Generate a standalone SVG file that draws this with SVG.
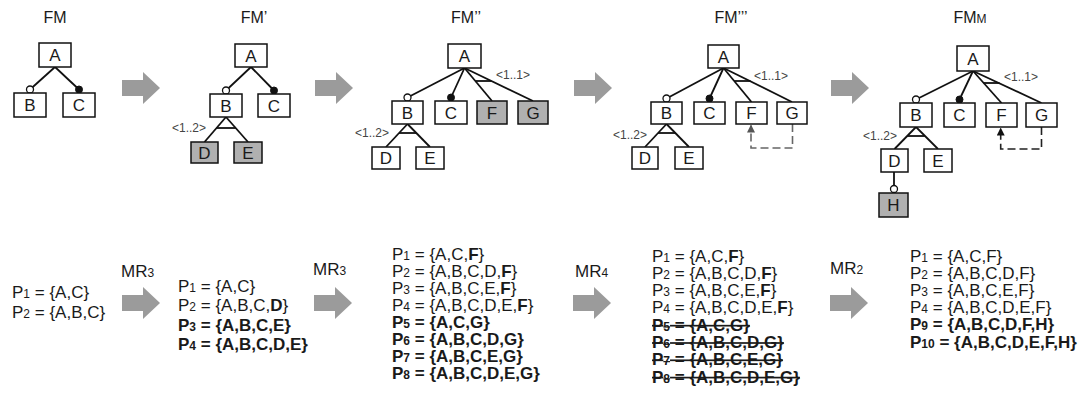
<svg xmlns="http://www.w3.org/2000/svg" width="1081" height="409" viewBox="0 0 1081 409">
<style>
text{font-family:"Liberation Sans",Arial,sans-serif;fill:#1a1a1a}
.t{font-size:16px;text-anchor:middle}
.n{font-size:17px;text-anchor:middle}
.g{font-size:12px;fill:#444}
.l{font-size:17px}
.b{font-weight:bold}
.s{font-size:12px}
.box{fill:#fff;stroke:#111;stroke-width:1.5}
.gbox{fill:#b0b0b0;stroke:#111;stroke-width:1.5}
.ln{stroke:#111;stroke-width:1.8;fill:none}
.oc{fill:#fff;stroke:#111;stroke-width:1.3}
.fc{fill:#111;stroke:#111;stroke-width:1}
.arr{fill:#9b9b9b}
.dg{stroke:#666;stroke-width:1.6;fill:none;stroke-dasharray:8 4}
.dk{stroke:#222;stroke-width:1.6;fill:none;stroke-dasharray:8 4}
.strike{text-decoration:line-through}
</style>
<defs>
<path id="bigarrow" d="M0,8 H21 V0 L38,16 L21,32 V24 H0 Z"/>
<marker id="ahg" markerWidth="8" markerHeight="8" refX="7" refY="4" orient="auto" markerUnits="userSpaceOnUse">
<path d="M0,0 L8,4 L0,8 Z" fill="#555"/>
</marker>
<marker id="ahk" markerWidth="8" markerHeight="8" refX="7" refY="4" orient="auto" markerUnits="userSpaceOnUse">
<path d="M0,0 L8,4 L0,8 Z" fill="#111"/>
</marker>
</defs>

<!-- titles -->
<g id="titles">
<text class="t" x="55" y="23">FM</text>
<text class="t" x="254" y="23">FM’</text>
<text class="t" x="466" y="23">FM’’</text>
<text class="t" x="731" y="23">FM’’’</text>
<text class="t" x="970" y="23">FM<tspan font-size="12">M</tspan></text>
</g>

<!-- transition arrows -->
<g id="arrows">
<use href="#bigarrow" class="arr" x="122" y="72"/>
<use href="#bigarrow" class="arr" x="315" y="72"/>
<use href="#bigarrow" class="arr" x="574" y="72"/>
<use href="#bigarrow" class="arr" x="831" y="72"/>
<use href="#bigarrow" class="arr" x="122" y="287"/>
<use href="#bigarrow" class="arr" x="314" y="287"/>
<use href="#bigarrow" class="arr" x="573" y="287"/>
<use href="#bigarrow" class="arr" x="830" y="287"/>
</g>

<g id="connectors">
<!-- FM -->
<line class="ln" x1="55" y1="67" x2="30" y2="89.5"/>
<line class="ln" x1="55" y1="67" x2="79" y2="89.5"/>
<circle class="oc" cx="30" cy="89.5" r="3.5"/>
<circle class="fc" cx="79" cy="89.5" r="3.5"/>
<!-- FM' -->
<line class="ln" x1="251" y1="67" x2="226" y2="90.5"/>
<line class="ln" x1="251" y1="67" x2="274" y2="90.5"/>
<circle class="oc" cx="226" cy="90.5" r="3.5"/>
<circle class="fc" cx="274" cy="90.5" r="3.5"/>
<line class="ln" x1="226" y1="117" x2="204.5" y2="142"/>
<line class="ln" x1="226" y1="117" x2="248" y2="142"/>
<line class="ln" x1="216.5" y1="128" x2="235.7" y2="128"/>
<!-- FM'' -->
<line class="ln" x1="464.5" y1="68" x2="407.5" y2="97.5"/>
<line class="ln" x1="464.5" y1="68" x2="451" y2="97.5"/>
<line class="ln" x1="464.5" y1="68" x2="492" y2="101"/>
<line class="ln" x1="464.5" y1="68" x2="533" y2="101"/>
<line class="ln" x1="475.3" y1="81" x2="491.3" y2="81"/>
<circle class="oc" cx="407.5" cy="97.5" r="3.5"/>
<circle class="fc" cx="451" cy="97.5" r="3.5"/>
<line class="ln" x1="407.5" y1="124" x2="386" y2="147"/>
<line class="ln" x1="407.5" y1="124" x2="430" y2="147"/>
<line class="ln" x1="399" y1="133" x2="416.3" y2="133"/>
<!-- FM''' -->
<line class="ln" x1="723.5" y1="68" x2="666.5" y2="98.5"/>
<line class="ln" x1="723.5" y1="68" x2="709.5" y2="98.5"/>
<line class="ln" x1="723.5" y1="68" x2="751.5" y2="102"/>
<line class="ln" x1="723.5" y1="68" x2="792" y2="102"/>
<line class="ln" x1="734.2" y1="81" x2="750.5" y2="81"/>
<circle class="oc" cx="666.5" cy="98.5" r="3.5"/>
<circle class="fc" cx="709.5" cy="98.5" r="3.5"/>
<line class="ln" x1="666.5" y1="124" x2="645" y2="147"/>
<line class="ln" x1="666.5" y1="124" x2="689" y2="147"/>
<line class="ln" x1="658" y1="133" x2="675.5" y2="133"/>
<polyline class="dg" points="792.5,124 792.5,148 751,148 751,125.5" marker-end="url(#ahg)"/>
<!-- FMM -->
<line class="ln" x1="973" y1="71" x2="916" y2="99.5"/>
<line class="ln" x1="973" y1="71" x2="959.5" y2="99.5"/>
<line class="ln" x1="973" y1="71" x2="1001.5" y2="103"/>
<line class="ln" x1="973" y1="71" x2="1041.5" y2="103"/>
<line class="ln" x1="983.7" y1="83" x2="999.5" y2="83"/>
<circle class="oc" cx="916" cy="99.5" r="3.5"/>
<circle class="fc" cx="959.5" cy="99.5" r="3.5"/>
<line class="ln" x1="916" y1="127" x2="894.5" y2="149"/>
<line class="ln" x1="916" y1="127" x2="938" y2="149"/>
<line class="ln" x1="907.2" y1="136" x2="924.8" y2="136"/>
<line class="ln" x1="894" y1="172" x2="894" y2="189"/>
<circle class="oc" cx="894" cy="189" r="3.5"/>
<polyline class="dk" points="1041.5,127 1041.5,149 1000.7,149 1000.7,128.5" marker-end="url(#ahk)"/>
</g>

<!-- group cardinality labels -->
<g id="cardinalities">
<text class="g" x="172" y="132">&lt;1..2&gt;</text>
<text class="g" x="496" y="79">&lt;1..1&gt;</text>
<text class="g" x="355" y="137">&lt;1..2&gt;</text>
<text class="g" x="754" y="80">&lt;1..1&gt;</text>
<text class="g" x="613" y="139">&lt;1..2&gt;</text>
<text class="g" x="1004" y="81">&lt;1..1&gt;</text>
<text class="g" x="863" y="140">&lt;1..2&gt;</text>
</g>

<!-- FM nodes -->
<g id="fm-A"><rect class="box" x="39" y="43" width="32" height="24"/><text class="n" x="55" y="61">A</text></g>
<g id="fm-B"><rect class="box" x="14" y="93" width="32" height="24"/><text class="n" x="30" y="111">B</text></g>
<g id="fm-C"><rect class="box" x="63" y="93" width="32" height="24"/><text class="n" x="79" y="111">C</text></g>

<!-- FM' nodes -->
<g id="fm1-A"><rect class="box" x="235" y="44" width="32" height="23"/><text class="n" x="251" y="61.5">A</text></g>
<g id="fm1-B"><rect class="box" x="210" y="94" width="32" height="23"/><text class="n" x="226" y="111.5">B</text></g>
<g id="fm1-C"><rect class="box" x="258" y="94" width="32" height="23"/><text class="n" x="274" y="111.5">C</text></g>
<g id="fm1-D"><rect class="gbox" x="191" y="142" width="27" height="21"/><text class="n" x="204.5" y="158.5">D</text></g>
<g id="fm1-E"><rect class="gbox" x="234" y="142" width="28" height="21"/><text class="n" x="248" y="158.5">E</text></g>

<!-- FM'' nodes -->
<g id="fm2-A"><rect class="box" x="448" y="44" width="33" height="24"/><text class="n" x="464.5" y="62">A</text></g>
<g id="fm2-B"><rect class="box" x="392" y="101" width="31" height="23"/><text class="n" x="407.5" y="118.5">B</text></g>
<g id="fm2-C"><rect class="box" x="435" y="101" width="32" height="23"/><text class="n" x="451" y="118.5">C</text></g>
<g id="fm2-F"><rect class="gbox" x="477" y="101" width="30" height="23"/><text class="n" x="492" y="118.5">F</text></g>
<g id="fm2-G"><rect class="gbox" x="518" y="101" width="30" height="23"/><text class="n" x="533" y="118.5">G</text></g>
<g id="fm2-D"><rect class="box" x="372" y="147" width="28" height="22"/><text class="n" x="386" y="164">D</text></g>
<g id="fm2-E"><rect class="box" x="416" y="147" width="28" height="22"/><text class="n" x="430" y="164">E</text></g>

<!-- FM''' nodes -->
<g id="fm3-A"><rect class="box" x="708" y="45" width="31" height="23"/><text class="n" x="723.5" y="62.5">A</text></g>
<g id="fm3-B"><rect class="box" x="651" y="102" width="31" height="22"/><text class="n" x="666.5" y="119">B</text></g>
<g id="fm3-C"><rect class="box" x="694" y="102" width="31" height="22"/><text class="n" x="709.5" y="119">C</text></g>
<g id="fm3-F"><rect class="box" x="736" y="102" width="31" height="22"/><text class="n" x="751.5" y="119">F</text></g>
<g id="fm3-G"><rect class="box" x="777" y="102" width="30" height="22"/><text class="n" x="792" y="119">G</text></g>
<g id="fm3-D"><rect class="box" x="632" y="147" width="26" height="22"/><text class="n" x="645" y="164">D</text></g>
<g id="fm3-E"><rect class="box" x="675" y="147" width="28" height="22"/><text class="n" x="689" y="164">E</text></g>

<!-- FMM nodes -->
<g id="fmm-A"><rect class="box" x="957" y="46" width="32" height="25"/><text class="n" x="973" y="64.5">A</text></g>
<g id="fmm-B"><rect class="box" x="900" y="103" width="32" height="24"/><text class="n" x="916" y="121">B</text></g>
<g id="fmm-C"><rect class="box" x="944" y="103" width="31" height="24"/><text class="n" x="959.5" y="121">C</text></g>
<g id="fmm-F"><rect class="box" x="986" y="103" width="31" height="24"/><text class="n" x="1001.5" y="121">F</text></g>
<g id="fmm-G"><rect class="box" x="1026" y="103" width="31" height="24"/><text class="n" x="1041.5" y="121">G</text></g>
<g id="fmm-D"><rect class="box" x="881" y="149" width="27" height="23"/><text class="n" x="894.5" y="166.5">D</text></g>
<g id="fmm-E"><rect class="box" x="924" y="149" width="28" height="23"/><text class="n" x="938" y="166.5">E</text></g>
<g id="fmm-H"><rect class="gbox" x="879" y="193" width="29" height="24"/><text class="n" x="893.5" y="211">H</text></g>

<!-- MR labels -->
<g id="mr-labels">
<text class="l" x="121" y="276.5">MR<tspan class="s">3</tspan></text>
<text class="l" x="313" y="275">MR<tspan class="s">3</tspan></text>
<text class="l" x="575" y="277">MR<tspan class="s">4</tspan></text>
<text class="l" x="830" y="274">MR<tspan class="s">2</tspan></text>
</g>

<!-- product lists -->
<g id="list1">
<text class="l" x="12" y="297.5">P<tspan class="s">1</tspan> = {A,C}</text>
<text class="l" x="12" y="317.5">P<tspan class="s">2</tspan> = {A,B,C}</text>
</g>
<g id="list2">
<text class="l" x="178" y="291.5">P<tspan class="s">1</tspan> = {A,C}</text>
<text class="l" x="178" y="311">P<tspan class="s">2</tspan> = {A,B,C,<tspan class="b">D</tspan>}</text>
<text class="l b" x="178" y="330.5">P<tspan class="s">3</tspan> = {A,B,C,E}</text>
<text class="l b" x="178" y="350">P<tspan class="s">4</tspan> = {A,B,C,D,E}</text>
</g>
<g id="list3">
<text class="l" x="392" y="259.5">P<tspan class="s">1</tspan> = {A,C,<tspan class="b">F</tspan>}</text>
<text class="l" x="392" y="276.6">P<tspan class="s">2</tspan> = {A,B,C,D,<tspan class="b">F</tspan>}</text>
<text class="l" x="392" y="293.7">P<tspan class="s">3</tspan> = {A,B,C,E,<tspan class="b">F</tspan>}</text>
<text class="l" x="392" y="310.8">P<tspan class="s">4</tspan> = {A,B,C,D,E,<tspan class="b">F</tspan>}</text>
<text class="l b" x="392" y="327.9">P<tspan class="s">5</tspan> = {A,C,G}</text>
<text class="l b" x="392" y="345">P<tspan class="s">6</tspan> = {A,B,C,D,G}</text>
<text class="l b" x="392" y="362.1">P<tspan class="s">7</tspan> = {A,B,C,E,G}</text>
<text class="l b" x="392" y="379.2">P<tspan class="s">8</tspan> = {A,B,C,D,E,G}</text>
</g>
<g id="list4">
<text class="l" x="652" y="261.5">P<tspan class="s">1</tspan> = {A,C,<tspan class="b">F</tspan>}</text>
<text class="l" x="652" y="278.8">P<tspan class="s">2</tspan> = {A,B,C,D,<tspan class="b">F</tspan>}</text>
<text class="l" x="652" y="296.1">P<tspan class="s">3</tspan> = {A,B,C,E,<tspan class="b">F</tspan>}</text>
<text class="l" x="652" y="313.4">P<tspan class="s">4</tspan> = {A,B,C,D,E,<tspan class="b">F</tspan>}</text>
<text class="l b strike" x="652" y="330.7">P<tspan class="s">5</tspan> = {A,C,G}</text>
<text class="l b strike" x="652" y="348">P<tspan class="s">6</tspan> = {A,B,C,D,G}</text>
<text class="l b strike" x="652" y="365.3">P<tspan class="s">7</tspan> = {A,B,C,E,G}</text>
<text class="l b strike" x="652" y="382.6">P<tspan class="s">8</tspan> = {A,B,C,D,E,G}</text>
</g>
<g id="list5">
<text class="l" x="910" y="261.5">P<tspan class="s">1</tspan> = {A,C,F}</text>
<text class="l" x="910" y="278.7">P<tspan class="s">2</tspan> = {A,B,C,D,F}</text>
<text class="l" x="910" y="295.9">P<tspan class="s">3</tspan> = {A,B,C,E,F}</text>
<text class="l" x="910" y="313.1">P<tspan class="s">4</tspan> = {A,B,C,D,E,F}</text>
<text class="l b" x="910" y="330.3">P<tspan class="s">9</tspan> = {A,B,C,D,F,H}</text>
<text class="l b" x="910" y="347.5">P<tspan class="s">10</tspan> = {A,B,C,D,E,F,H}</text>
</g>
</svg>
